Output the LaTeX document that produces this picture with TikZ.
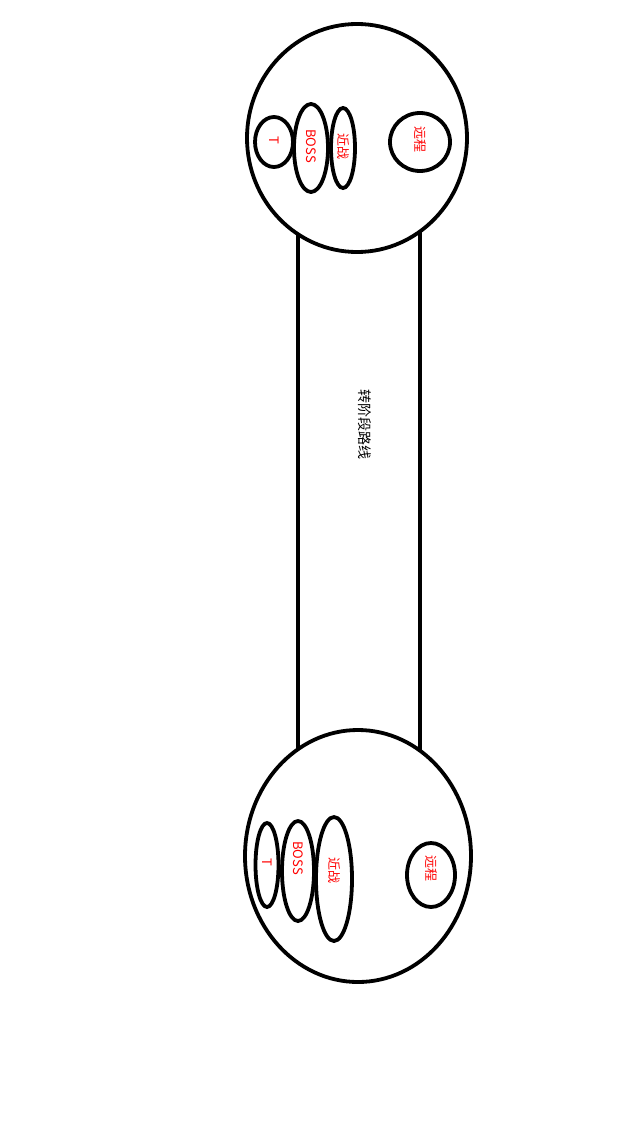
\documentclass[tikz,border=0pt]{standalone}
\usepackage{fontspec}
\setmainfont{Noto Sans CJK SC}
\begin{document}
\begin{tikzpicture}[x=1pt,y=-1pt]
\tikzstyle{every node}+=[inner sep=0pt]
\tikzstyle{rim}=[black,line width=3.8pt,fill=white]
\tikzstyle{lbl}=[red,rotate=-90,font=\fontsize{13}{13}\selectfont]
\useasboundingbox (0,0) rectangle (640,1137);
\draw [black,line width=3.8pt] (298,138) -- (298,856);
\draw [black,line width=3.8pt] (420,138) -- (420,856);
\draw (365,424) node[rotate=-90,font=\fontsize{14}{14}\selectfont] (route) {转阶段路线};
\draw [rim] (357,138) ellipse (110 and 114);
\draw [rim] (274,142) ellipse (19 and 25);
\draw (274,140) node[lbl] (topT) {T};
\draw [rim] (311,148) ellipse (17 and 44);
\draw (311,146) node[lbl] (topBoss) {BOSS};
\draw [rim] (343,148) ellipse (12 and 40);
\draw (343,146) node[lbl] (topMelee) {近战};
\draw [rim] (420,142) ellipse (30 and 29);
\draw (420,140) node[lbl] (topRanged) {远程};
\draw [rim] (358,856) ellipse (113 and 126);
\draw [rim] (267,865) ellipse (11.5 and 42);
\draw (267,862) node[lbl] (botT) {T};
\draw [rim] (298,871) ellipse (16 and 50);
\draw (298,858) node[lbl] (botBoss) {BOSS};
\draw [rim] (334,879) ellipse (18 and 62);
\draw (334,870) node[lbl] (botMelee) {近战};
\draw [rim] (431,875) ellipse (24 and 32);
\draw (431,868) node[lbl] (botRanged) {远程};
\end{tikzpicture}
\end{document}
